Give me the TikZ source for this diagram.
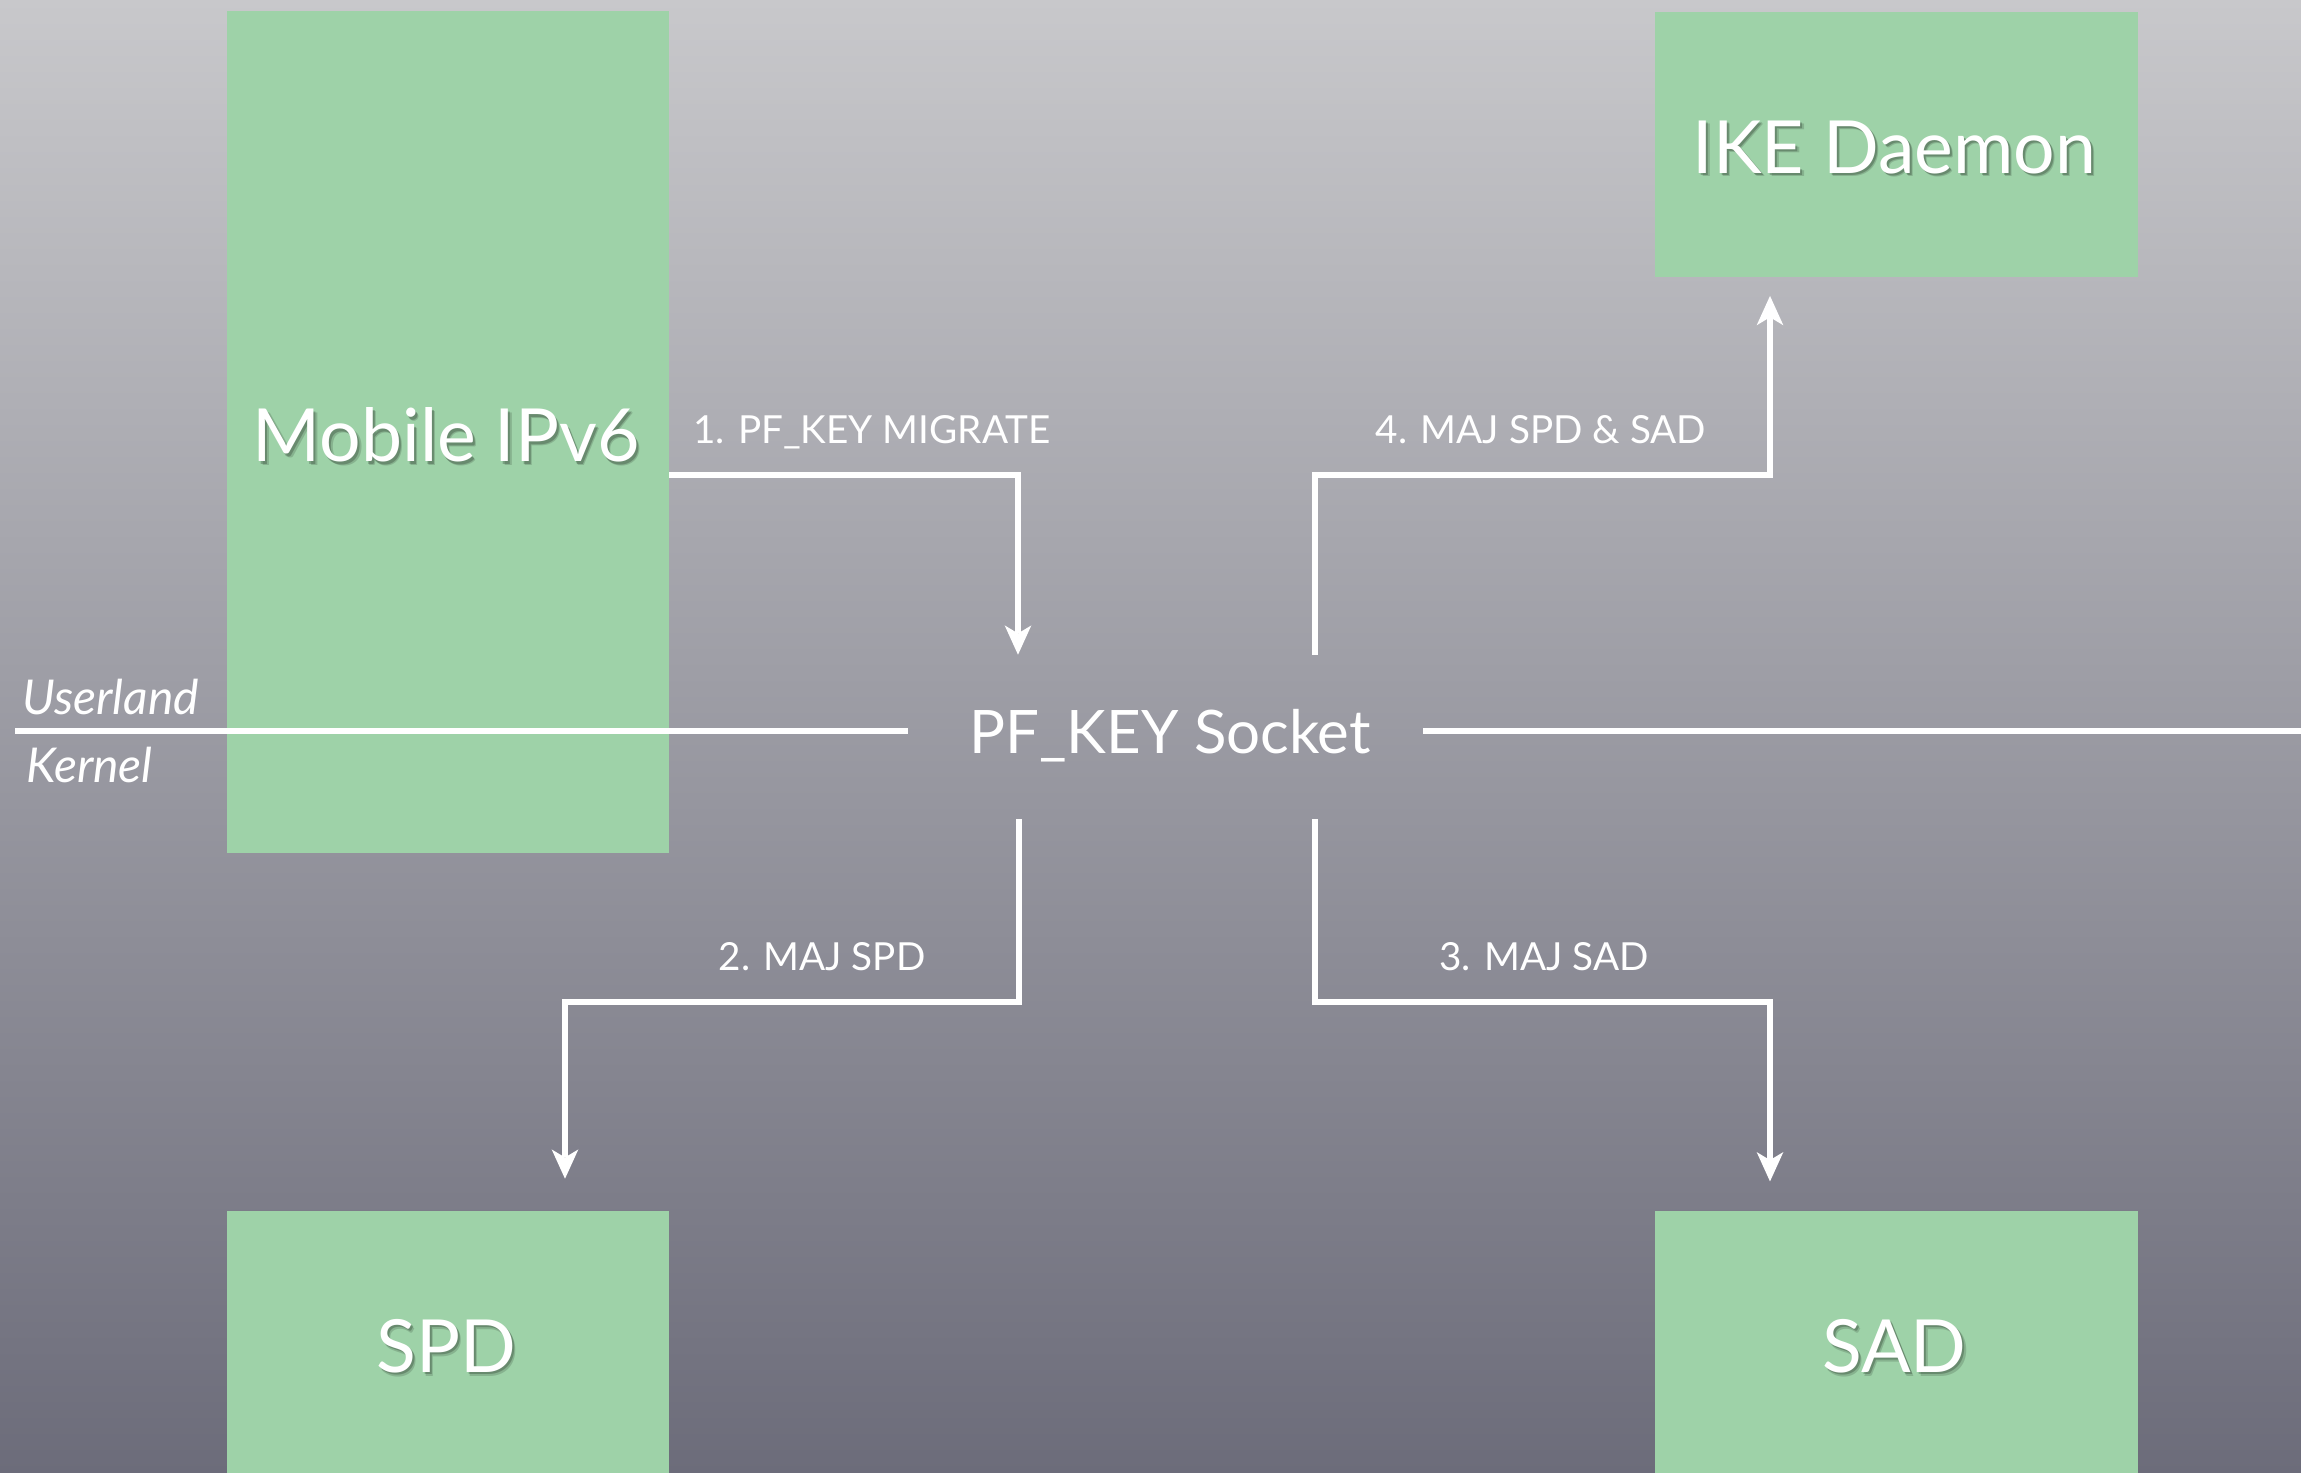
\documentclass[tikz,border=0pt]{standalone}
\usepackage{fontspec}
\setmainfont{Lato}
\usetikzlibrary{arrows.meta}

\definecolor{bgtop}{RGB}{200,200,203}
\definecolor{bgbot}{RGB}{108,108,122}
\definecolor{boxgreen}{RGB}{158,210,168}

\tikzset{
  px/.style={x=0.75pt,y=-0.75pt},
  block/.style={fill=boxgreen,draw=none,inner sep=0pt},
  bigtext/.style={text=white,font=\fontsize{55}{66}\selectfont},
  flow/.style={color=white,line width=4pt,-{Stealth[length=22pt,width=20pt,inset=6pt,line width=0pt,fill=white]}},
  plainline/.style={color=white,line width=4pt},
  steplabel/.style={text=white,font=\fontsize{29}{34}\selectfont,inner sep=0pt,anchor=base},
  layerlabel/.style={text=white,font=\fontsize{36}{42}\selectfont\itshape,inner sep=0pt,anchor=base west},
}

% white caption with a soft dark shadow
\newcommand{\shadowtext}[1]{%
  \tikz[baseline=(t.base)]{
    \node[inner sep=0pt,text=black,opacity=0.15] at (2.6pt,-2.8pt) {#1};
    \node[inner sep=0pt,text=black,opacity=0.22] at (1.5pt,-1.7pt) {#1};
    \node[inner sep=0pt,text=white] (t) at (0,0) {#1};
  }}

\begin{document}
\begin{tikzpicture}[px]
  % backdrop
  \shade[top color=bgtop,bottom color=bgbot] (0,0) rectangle (2301,1473);
  \useasboundingbox (0,0) rectangle (2301,1473);

  % components
  \node[block,minimum width=442*0.75pt,minimum height=841*0.75pt] (mip) at (448,432) {};
  \node[bigtext] at (448,437) {\shadowtext{Mobile IPv6}};

  \node[block,minimum width=483*0.75pt,minimum height=265*0.75pt] (ike) at (1896,144.5) {};
  \node[bigtext] at (1896,149) {\shadowtext{IKE Daemon}};

  \node[block,minimum width=442*0.75pt,minimum height=270*0.75pt] (spd) at (448,1346) {};
  \node[bigtext] at (448,1348) {\shadowtext{SPD}};

  \node[block,minimum width=483*0.75pt,minimum height=270*0.75pt] (sad) at (1896,1346) {};
  \node[bigtext] at (1896,1348) {\shadowtext{SAD}};

  % socket
  \node[minimum width=515*0.75pt,minimum height=164*0.75pt,inner sep=0pt] (sock) at (1165.5,737) {};
  \node[text=white,font=\fontsize{45}{54}\selectfont] (socklabel) at (1170,736) {PF\_KEY Socket};

  % userland / kernel boundary
  \coordinate (bleft) at (15,731);
  \coordinate (bright) at (2301,731);
  \draw[plainline] (bleft) -- (bleft -| sock.west);
  \draw[plainline] (sock.east |- bright) -- (bright);
  \node[layerlabel] (user) at (22,714) {Userland};
  \node[layerlabel] (kern) at (26,782) {Kernel};

  % routing points
  \coordinate (c1) at (1018,475);
  \coordinate (c4) at (1315,475);
  \coordinate (c2) at (1019,1002);
  \coordinate (c3) at (1315,1002);
  \coordinate (cike) at (1770,475);
  \coordinate (cspd) at (565,1002);
  \coordinate (csad) at (1770,1002);

  % 1. migrate request
  \draw[flow] (mip.east |- c1) -- (c1) -- (c1 |- sock.north);
  % 4. notify IKE
  \draw[flow,shorten >=14pt] (c4 |- sock.north) -- (c4) -- (cike) -- (cike |- ike.south);
  % 2. update SPD
  \draw[flow,shorten >=24pt] (c2 |- sock.south) -- (c2) -- (cspd) -- (cspd |- spd.north);
  % 3. update SAD
  \draw[flow,shorten >=22pt] (c3 |- sock.south) -- (c3) -- (csad) -- (csad |- sad.north);

  % step labels
  \node[steplabel] (l1) at (872,443) {1. PF\_KEY MIGRATE};
  \node[steplabel] (l4) at (1541,443) {4. MAJ SPD \& SAD};
  \node[steplabel] (l2) at (822,970) {2. MAJ SPD};
  \node[steplabel] (l3) at (1544,970) {3. MAJ SAD};
\end{tikzpicture}
\end{document}
